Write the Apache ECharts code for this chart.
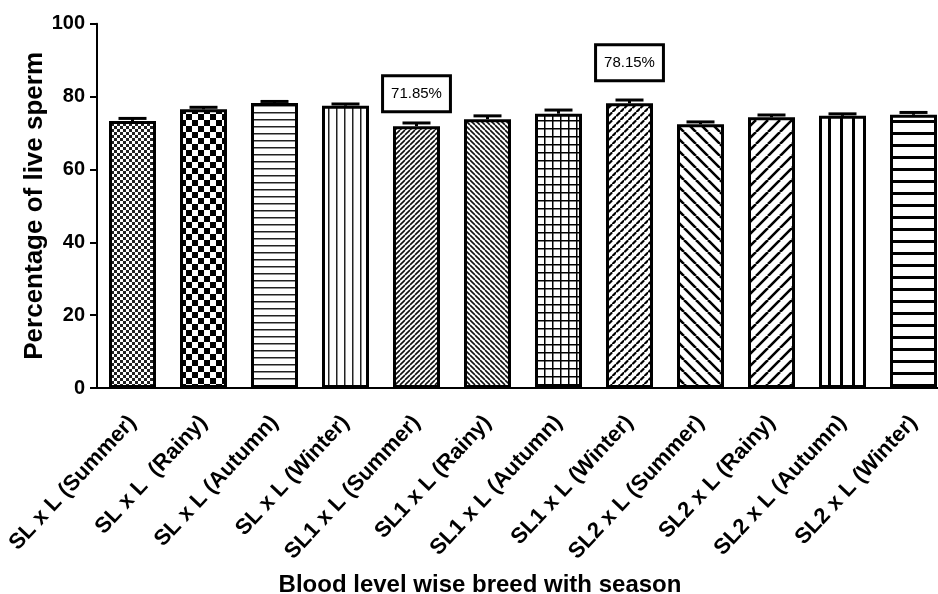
<!DOCTYPE html>
<html>
<head>
<meta charset="utf-8">
<script src="https://cdn.jsdelivr.net/npm/echarts@6/dist/echarts.min.js"></script>
<style>
html,body{margin:0;padding:0;background:#fff;}
#chart{width:938px;height:594px;}
</style>
</head>
<body>
<div id="chart"></div>
<script>
// ---- data ----
var categories = [
  'SL x L (Summer)', 'SL x L  (Rainy)', 'SL x L (Autumn)', 'SL x L (Winter)',
  'SL1 x L (Summer)', 'SL1 x L (Rainy)', 'SL1 x L (Autumn)', 'SL1 x L (Winter)',
  'SL2 x L (Summer)', 'SL2 x L (Rainy)', 'SL2 x L (Autumn)', 'SL2 x L (Winter)'
];
var liveSperm = [73.3, 76.5, 78.2, 77.5, 71.85, 73.8, 75.3, 78.15, 72.4, 74.3, 74.7, 75.0];
var sem = [0.7, 0.55, 0.46, 0.46, 0.9, 0.9, 1.0, 0.9, 0.64, 0.64, 0.55, 0.64];
var annotations = [null, null, null, null, '71.85%', null, null, '78.15%', null, null, null, null];
var yTicks = [0, 20, 40, 60, 80, 100];

// ---- pattern fills (style only) ----
function mk(w, h, draw) {
  var c = document.createElement('canvas');
  c.width = w; c.height = h;
  var g = c.getContext('2d');
  g.fillStyle = '#fff'; g.fillRect(0, 0, w, h);
  g.fillStyle = '#000'; g.strokeStyle = '#000';
  draw(g, w, h);
  return c;
}
function diag(g, s, lw, dir) {
  g.lineWidth = lw;
  g.beginPath();
  for (var k = -s; k <= s; k += s) {
    if (dir > 0) { g.moveTo(k, s); g.lineTo(k + s, 0); }
    else { g.moveTo(k, 0); g.lineTo(k + s, s); }
  }
  g.stroke();
}
var patterns = [
  mk(6, 6, function (g) { g.fillStyle = '#222'; g.fillRect(0, 0, 3, 3); g.fillRect(3, 3, 3, 3); }),
  mk(12, 12, function (g) { g.fillRect(0, 0, 6, 6); g.fillRect(6, 6, 6, 6); }),
  mk(7, 7, function (g) { g.fillStyle = '#222'; g.fillRect(0, 0, 7, 1.5); }),
  mk(8, 8, function (g) { g.fillStyle = '#222'; g.fillRect(0, 0, 1.5, 8); }),
  mk(5, 5, function (g) { g.strokeStyle = '#111'; diag(g, 5, 1.6, 1); }),
  mk(5, 5, function (g) { g.strokeStyle = '#111'; diag(g, 5, 1.6, -1); }),
  mk(8, 8, function (g) { g.fillRect(0, 0, 8, 1.5); g.fillRect(0, 0, 1.5, 8); }),
  mk(8, 8, function (g) {
    g.lineWidth = 2.2; g.lineCap = 'round';
    g.beginPath();
    g.moveTo(1, 3.5); g.lineTo(3.5, 1);
    g.moveTo(5, 7.5); g.lineTo(7.5, 5);
    g.stroke();
  }),
  mk(12, 12, function (g) { diag(g, 12, 2.6, -1); }),
  mk(12, 12, function (g) { diag(g, 12, 2.6, 1); }),
  mk(12, 12, function (g) { g.fillRect(0, 0, 3, 12); }),
  mk(12, 12, function (g) { g.fillRect(0, 0, 12, 3); })
];

var FONT = "'Liberation Sans', Arial, Helvetica, sans-serif";

var barData = liveSperm.map(function (v, i) {
  var item = {
    value: v,
    itemStyle: { color: { image: patterns[i], repeat: 'repeat' } }
  };
  if (annotations[i]) {
    item.label = {
      show: true,
      position: 'top',
      distance: i === 4 ? 16 : 24,
      formatter: annotations[i],
      fontFamily: FONT,
      fontSize: 15,
      color: '#000',
      backgroundColor: '#fff',
      borderColor: '#000',
      borderWidth: 3,
      padding: [9, 7, 9, 7]
    };
  }
  return item;
});

var errData = liveSperm.map(function (v, i) { return [i, v, sem[i]]; });

var chart = echarts.init(document.getElementById('chart'), null, { renderer: 'canvas' });
chart.setOption({
  backgroundColor: '#fff',
  animation: false,
  grid: { left: 97, top: 23.7, width: 852, height: 364.3, containLabel: false, outerBoundsMode: 'none' },
  xAxis: {
    type: 'category',
    data: categories,
    name: 'Blood level wise breed with season',
    nameLocation: 'middle',
    nameGap: 185,
    nameMoveOverlap: false,
    nameTextStyle: { fontFamily: FONT, fontSize: 24, fontWeight: 'bold', color: '#000', padding: [0, 86, 0, 0] },
    axisLine: { lineStyle: { color: '#000', width: 2 } },
    axisTick: { alignWithLabel: true, length: 9, lineStyle: { color: '#000', width: 2 } },
    axisLabel: { rotate: 47, interval: 0, margin: 31, fontFamily: FONT, fontSize: 22, fontWeight: 'bold', color: '#000' },
    splitLine: { show: false }
  },
  yAxis: {
    type: 'value',
    min: yTicks[0],
    max: yTicks[yTicks.length - 1],
    interval: yTicks[1] - yTicks[0],
    name: 'Percentage of live sperm',
    nameLocation: 'middle',
    nameGap: 49,
    nameMoveOverlap: false,
    nameTextStyle: { fontFamily: FONT, fontSize: 26, fontWeight: 'bold', color: '#000' },
    axisLine: { show: true, lineStyle: { color: '#000', width: 2 } },
    axisTick: { show: true, length: 7, lineStyle: { color: '#000', width: 2 } },
    axisLabel: { margin: 12, fontFamily: FONT, fontSize: 20, fontWeight: 'bold', color: '#000' },
    splitLine: { show: false }
  },
  series: [
    {
      type: 'bar',
      data: barData,
      barWidth: 47,
      itemStyle: { borderColor: '#000', borderWidth: 3 },
      z: 2
    },
    {
      type: 'custom',
      data: errData,
      z: 3,
      renderItem: function (params, api) {
        var x = api.value(0), v = api.value(1), e = api.value(2);
        var p0 = api.coord([x, v]);
        var p1 = api.coord([x, v + e]);
        var half = 14;
        return {
          type: 'group',
          children: [
            { type: 'line', shape: { x1: p0[0], y1: p0[1], x2: p1[0], y2: p1[1] }, style: { stroke: '#000', lineWidth: 3 } },
            { type: 'line', shape: { x1: p1[0] - half, y1: p1[1], x2: p1[0] + half, y2: p1[1] }, style: { stroke: '#000', lineWidth: 3 } }
          ]
        };
      }
    }
  ]
});
</script>
</body>
</html>
